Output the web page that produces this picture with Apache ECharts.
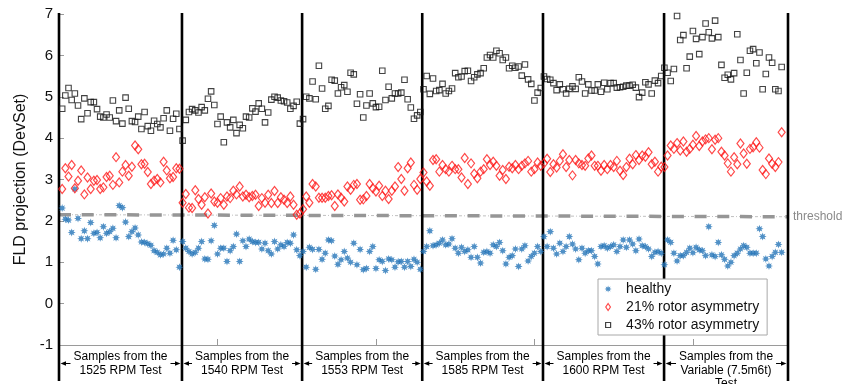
<!DOCTYPE html>
<html><head><meta charset="utf-8">
<script src="https://cdn.jsdelivr.net/npm/echarts@6/dist/echarts.min.js"></script>
<style>html,body{margin:0;padding:0;background:#fff}#c{width:854px;height:384px}</style>
</head><body><div id="c"></div>
<script>
// ---------------- data ----------------
const segmentBounds = [0, 38.8, 76.7, 114.6, 152.7, 190.9, 230];
const segmentTitles = ['1525 RPM Test', '1540 RPM Test', '1553 RPM Test', '1585 RPM Test', '1600 RPM Test', 'Variable (7.5m6t)\nTest'];
const samplesHeader = 'Samples from the';
const xTicks = [0, 50, 100, 150, 200];
const yTicks = [-1, 0, 1, 2, 3, 4, 5, 6, 7];
const thresholdLine = [[0, 2.15], [230, 2.10]];

const healthy = [
  2.31,2.04,2.02,1.72,2.77,2.06,1.57,1.76,1.57,1.96,1.70,1.72,1.59,1.86,1.70,1.74,1.82,1.59,2.37,2.32,1.97,1.62,1.74,1.83,1.66,1.49,1.48,1.45,1.41,1.28,1.24,1.18,1.20,1.34,1.22,1.53,1.30,0.88,
  1.50,1.34,1.26,1.20,1.24,1.34,1.50,1.08,1.07,1.52,1.89,1.20,1.34,1.34,1.02,1.28,1.38,1.68,1.02,1.52,1.38,1.56,1.50,1.48,1.48,1.32,1.46,1.28,1.20,1.50,1.32,1.42,1.38,1.48,1.46,1.66,1.30,1.16,
  1.26,0.88,1.36,1.31,0.83,1.31,1.07,1.22,1.54,1.52,1.15,0.95,1.06,1.26,1.10,1.00,1.46,0.94,1.31,0.82,0.85,1.26,1.38,0.85,1.06,1.02,0.80,1.08,1.06,0.88,1.01,1.02,0.88,1.02,0.90,1.07,1.00,0.83,
  1.26,1.38,1.76,1.40,1.42,1.46,1.54,1.42,1.44,1.57,1.34,1.22,1.36,1.26,1.30,1.12,1.38,1.12,0.98,1.24,1.26,1.22,1.42,1.38,1.48,1.28,0.96,1.12,1.16,1.32,0.90,1.32,1.40,1.03,1.14,1.22,1.38,1.26,
  1.62,1.38,1.74,1.34,1.20,1.46,1.26,1.38,1.62,1.44,1.32,1.06,1.34,1.22,1.28,1.28,1.14,0.96,1.38,1.40,1.34,1.38,1.42,1.26,1.38,1.54,1.36,1.54,1.44,1.28,1.56,1.40,1.38,1.32,1.14,1.24,1.26,1.22,
  0.94,1.54,1.48,1.22,1.03,1.16,1.16,1.24,1.34,1.23,1.36,1.30,1.28,1.16,1.86,1.18,1.14,1.48,1.18,1.07,0.91,1.00,1.16,1.22,1.32,1.40,1.36,1.22,1.22,1.22,1.81,1.62,1.08,0.91,1.14,1.24,1.43,1.24
];
const rotor21 = [
  2.77,3.27,3.07,3.35,2.79,2.97,3.22,2.64,3.05,2.77,2.97,2.99,2.77,2.81,3.06,3.09,2.87,3.54,2.93,3.19,3.35,3.09,3.31,3.82,3.73,3.37,3.38,3.18,2.89,2.97,3.01,2.93,3.43,3.22,3.03,3.06,3.27,3.26,
  2.44,2.65,2.32,2.31,2.74,2.53,2.39,2.57,2.18,2.66,2.47,2.44,2.55,2.39,2.59,2.55,2.73,2.64,2.83,2.59,2.63,2.57,2.60,2.63,2.36,2.55,2.44,2.63,2.43,2.72,2.43,2.57,2.51,2.43,2.59,2.39,2.15,2.18,
  2.28,2.59,2.44,2.89,2.83,2.56,2.56,2.56,2.60,2.62,2.36,2.64,2.56,2.47,2.83,2.75,2.87,2.89,2.51,2.52,2.60,2.89,2.79,2.71,2.85,2.60,2.73,2.53,2.73,2.83,3.30,3.01,2.73,3.27,3.41,2.87,2.75,3.01,
  3.17,2.95,2.85,3.47,3.49,3.19,3.35,3.25,3.19,3.33,3.25,3.25,3.05,3.52,2.89,3.39,3.14,3.03,3.19,3.25,3.49,3.35,3.43,3.33,3.09,3.23,3.01,3.31,3.27,3.35,3.25,3.33,3.39,3.45,3.19,3.25,3.41,3.33,
  3.39,3.50,3.18,3.37,3.29,3.45,3.61,3.30,3.47,3.10,3.47,3.39,3.35,3.33,3.51,3.58,3.33,3.33,3.21,3.35,3.25,3.35,3.30,3.45,3.21,3.11,3.30,3.50,3.37,3.59,3.47,3.58,3.55,3.66,3.37,3.43,3.19,3.31,
  3.30,3.58,3.82,3.74,3.88,3.70,3.92,3.67,3.74,3.84,4.05,3.81,3.92,3.97,4.00,3.73,3.96,4.00,3.67,3.58,3.39,3.19,3.54,3.37,3.87,3.63,3.38,3.74,3.78,3.90,3.77,3.23,3.13,3.51,3.38,3.30,3.42,4.14
];
const rotor43 = [
  4.71,5.03,5.21,4.92,5.08,4.79,4.46,4.96,4.60,4.87,4.87,4.70,4.52,4.50,4.57,4.50,4.91,4.41,4.67,4.35,4.98,4.71,4.41,4.39,4.52,4.22,4.63,4.29,4.18,4.42,4.34,4.26,4.48,4.67,4.18,4.47,4.59,4.22,
  3.94,4.44,4.63,4.70,4.67,4.62,4.75,4.67,4.95,5.13,4.80,4.34,4.52,3.90,4.38,4.26,4.44,4.12,4.32,4.24,4.52,4.50,4.72,4.64,4.84,4.71,4.38,4.62,4.93,5.00,4.98,4.91,4.89,4.86,4.71,4.78,4.88,4.35,
  4.46,5.00,4.96,5.37,4.94,5.75,5.20,4.71,4.78,5.41,5.39,5.08,5.23,5.28,5.12,5.58,5.54,4.83,5.06,4.50,4.79,5.08,4.84,4.75,4.76,5.63,4.92,5.24,4.96,5.08,5.08,5.10,5.41,4.94,4.74,4.47,4.55,4.63,
  5.18,5.50,5.07,5.44,5.14,5.16,5.31,5.08,5.14,5.20,5.57,5.47,5.49,5.62,5.63,5.38,5.47,5.54,5.57,5.69,5.95,6.01,5.95,6.11,6.05,5.89,5.95,5.69,5.75,5.70,5.73,5.51,5.78,5.42,5.31,4.91,5.10,5.21,
  5.49,5.43,5.41,5.33,5.16,5.30,5.18,5.08,5.19,5.25,5.19,5.47,5.37,5.08,5.30,5.15,5.15,5.30,5.12,5.34,5.18,5.33,5.33,5.22,5.23,5.24,5.27,5.27,5.29,5.22,4.99,5.10,5.35,5.30,5.08,5.39,5.33,5.50,
  5.70,5.58,5.38,5.67,6.95,6.37,6.49,5.69,5.97,6.59,6.40,6.03,6.44,6.77,6.56,6.41,6.84,6.44,5.77,5.46,5.53,5.42,5.57,6.51,5.89,5.08,5.58,6.11,6.15,5.81,6.07,5.18,5.55,5.95,5.82,5.18,5.14,5.72
];

// ---------------- styling ----------------
const FONT = '"Liberation Sans", Arial, Helvetica, sans-serif';
const BLUE = '#2474b8';
const RED = '#ff1a1a';
const DARK = '#141414';
const GREY = '#969696';

function starPath(){
  let d = 'path://';
  for (let k = 0; k < 16; k++) {
    const a = k * Math.PI / 8 - Math.PI / 2;
    const r = k % 2 === 0 ? 10 : 5;
    d += (k ? 'L' : 'M') + (r * Math.cos(a)).toFixed(2) + ',' + (r * Math.sin(a)).toFixed(2);
  }
  return d + 'Z';
}
const STAR = starPath();

const measureCtx = document.createElement('canvas').getContext('2d');
measureCtx.font = '12px ' + FONT;
const headerWidth = measureCtx.measureText(samplesHeader).width;

const toXY = arr => arr.map((v, i) => [i + 1, v]);

const chart = echarts.init(document.getElementById('c'), null, {renderer: 'canvas'});
chart.setOption({
  animation: false,
  backgroundColor: '#fff',
  grid: {left: 59, right: 66, top: 14, bottom: 39, containLabel: false, outerBoundsMode: 'none'},
  xAxis: {
    type: 'value', min: xTicks[0], max: 230, interval: 50,
    axisLabel: {show: false},
    axisLine: {show: true, onZero: false, lineStyle: {color: '#9a9a9a', width: 1}},
    axisTick: {show: true, inside: true, length: 6, lineStyle: {color: '#9a9a9a'}},
    splitLine: {show: false}
  },
  yAxis: {
    type: 'value', min: yTicks[0], max: yTicks[yTicks.length - 1], interval: 1,
    name: 'FLD projection (DevSet)', nameLocation: 'middle', nameGap: 29,
    nameTextStyle: {fontSize: 16, color: '#111', fontFamily: FONT},
    axisLine: {show: false, onZero: false},
    axisTick: {show: true, inside: true, length: 5, lineStyle: {color: '#9a9a9a'}},
    axisLabel: {fontSize: 15, color: '#111', fontFamily: FONT, margin: 6},
    splitLine: {show: false}
  },
  legend: {
    orient: 'vertical', left: 598, top: 279,
    padding: [3, 8, 3, 6], itemGap: 4, itemWidth: 26, itemHeight: 7,
    backgroundColor: '#fff', borderColor: '#a8a8a8', borderWidth: 1, borderRadius: 0,
    textStyle: {fontSize: 14, color: '#111', fontFamily: FONT, lineHeight: 14},
    symbolKeepAspect: true,
    selectedMode: false,
    data: [
      {name: 'healthy', icon: STAR, itemStyle: {color: BLUE, borderWidth: 0}},
      {name: '21% rotor asymmetry', icon: 'path://M5,0L9,6L5,12L1,6Z', itemStyle: {color: 'rgba(0,0,0,0)', borderColor: RED, borderWidth: 1.2}},
      {name: '43% rotor asymmetry', icon: 'path://M-2,-2M12,12M0,0L10,0L10,10L0,10Z', itemStyle: {color: 'rgba(0,0,0,0)', borderColor: DARK, borderWidth: 1.2}}
    ]
  },
  series: [
    {
      type: 'custom', name: 'separators', silent: true, clip: false, z: 3,
      data: segmentBounds.map(v => [v, 7]),
      renderItem: (params, api) => {
        const p = api.coord([api.value(0), 7]);
        return {type: 'line', shape: {x1: p[0], y1: p[1] - 1, x2: p[0], y2: api.getHeight() - 3},
          style: {stroke: '#000', lineWidth: 2.6}};
      }
    },
    {
      type: 'custom', name: 'segments', silent: true, clip: false, z: 3,
      encode: {x: [0, 1], y: 2},
      data: segmentTitles.map((t, i) => [segmentBounds[i], segmentBounds[i + 1], -1]),
      renderItem: (params, api) => {
        const s = api.coord([api.value(0), -1]);
        const e = api.coord([api.value(1), -1]);
        const cx = (s[0] + e[0]) / 2;
        const y = s[1] + 18.5;
        const tl = cx - headerWidth / 2 - 3, tr = cx + headerWidth / 2 + 3;
        const sx = s[0] + 1.5, ex = e[0] - 1.5;
        return {type: 'group', children: [
          {type: 'text', style: {text: samplesHeader + '\n' + segmentTitles[params.dataIndex], x: cx, y: s[1] + 5.3,
            align: 'center', verticalAlign: 'top', fontSize: 12, lineHeight: 13.5, fontFamily: FONT, fill: '#000'}},
          {type: 'line', shape: {x1: sx + 4, y1: y, x2: tl, y2: y}, style: {stroke: '#000', lineWidth: 1}},
          {type: 'polygon', shape: {points: [[sx, y], [sx + 5.5, y - 2.3], [sx + 5.5, y + 2.3]]}, style: {fill: '#000'}},
          {type: 'line', shape: {x1: tr, y1: y, x2: ex - 4, y2: y}, style: {stroke: '#000', lineWidth: 1}},
          {type: 'polygon', shape: {points: [[ex, y], [ex - 5.5, y - 2.3], [ex - 5.5, y + 2.3]]}, style: {fill: '#000'}}
        ]};
      }
    },
    {
      type: 'line', name: 'thr-thin', data: thresholdLine, symbol: 'none', silent: true, z: 1,
      lineStyle: {color: '#c0c0c0', width: 1, type: [3, 2, 1, 2]}
    },
    {
      type: 'line', name: 'threshold', data: thresholdLine, symbol: 'none', silent: true, z: 1,
      lineStyle: {color: GREY, width: 3.5, type: [12, 10.7]},
      endLabel: {show: true, formatter: 'threshold', color: '#8a8a8a', fontSize: 12, fontFamily: FONT, distance: 5}
    },
    {
      type: 'scatter', name: 'healthy', data: toXY(healthy), symbol: STAR, symbolSize: 8,
      itemStyle: {color: BLUE}, z: 4, emphasis: {disabled: true}
    },
    {
      type: 'scatter', name: '21% rotor asymmetry', data: toXY(rotor21), symbol: 'diamond', symbolSize: [7, 9],
      itemStyle: {color: 'rgba(0,0,0,0)', borderColor: RED, borderWidth: 1.2}, z: 4, emphasis: {disabled: true}
    },
    {
      type: 'scatter', name: '43% rotor asymmetry', data: toXY(rotor43), symbol: 'rect', symbolSize: 5.5,
      itemStyle: {color: 'rgba(0,0,0,0)', borderColor: DARK, borderWidth: 1.1}, z: 4, emphasis: {disabled: true}
    }
  ]
});
</script>
</body></html>
